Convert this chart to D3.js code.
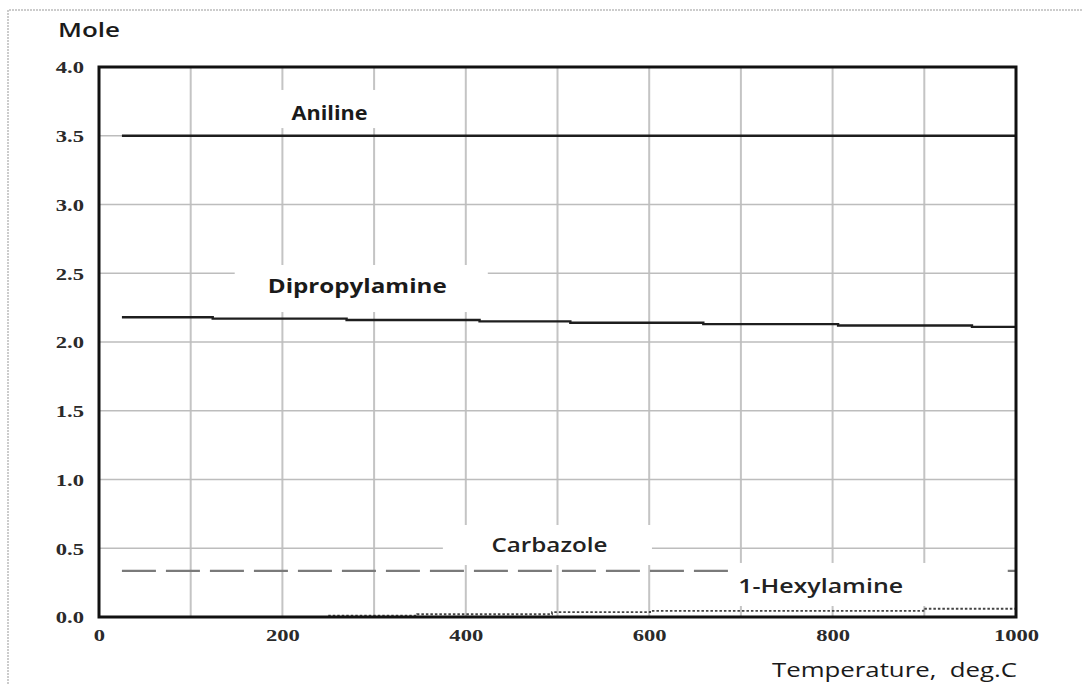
<!DOCTYPE html>
<html>
<head>
<meta charset="utf-8">
<script src="https://cdn.jsdelivr.net/npm/d3@7"></script>
<style>
  body { margin: 0; background: #fff; }
  svg { display: block; }
</style>
</head>
<body>
<div class="container"></div>
<script>
// values
const xTicks = [0, 200, 400, 600, 800, 1000];
const yTicks = [0, 0.5, 1, 1.5, 2, 2.5, 3, 3.5, 4];

const anilineT = [25, 1000];
const anilineMole = [3.5, 3.5];

const dipropT = [25, 124, 270, 415, 514, 659, 806, 952, 1000];
const dipropMole = [2.18, 2.17, 2.16, 2.15, 2.14, 2.13, 2.12, 2.11, 2.11];

const carbT = [25, 1000];
const carbMole = [0.335, 0.335];

const hexT = [250, 347, 494, 601, 899, 1000];
const hexMole = [0.01, 0.02, 0.035, 0.045, 0.06, 0.06];

const width = 1082;
const height = 684;
const margin = { top: 67, right: 66, bottom: 67, left: 99 };

const zip = (xs, ys) => xs.map((t, i) => ({ t, v: ys[i] }));

const genGraph = () => {
  const xScale = d3.scaleLinear().domain([0, 1000]).range([margin.left, width - margin.right]);
  const yScale = d3.scaleLinear().domain([0, 4]).range([height - margin.bottom, margin.top]);

  const svg = d3
    .select(".container")
    .append("svg")
    .attr("width", width)
    .attr("height", height);

  // dotted frame of the picture
  svg.append("path")
    .attr("d", `M8,${height} V10 H${width}`)
    .attr("fill", "none")
    .attr("stroke", "#999")
    .attr("stroke-width", 1)
    .attr("stroke-dasharray", "2,1");

  // grid
  const grid = svg.append("g").attr("id", "grid");
  grid.selectAll("line.v")
    .data(d3.range(100, 1000, 100))
    .enter()
    .append("line")
    .attr("class", "v")
    .attr("x1", d => xScale(d))
    .attr("x2", d => xScale(d))
    .attr("y1", yScale(4))
    .attr("y2", yScale(0))
    .attr("stroke", "#c4c4c4")
    .attr("stroke-width", 2);
  grid.selectAll("line.h")
    .data(yTicks.filter(d => d > 0 && d < 4))
    .enter()
    .append("line")
    .attr("class", "h")
    .attr("x1", xScale(0))
    .attr("x2", xScale(1000))
    .attr("y1", d => yScale(d))
    .attr("y2", d => yScale(d))
    .attr("stroke", "#bdbdbd")
    .attr("stroke-width", 1.5);

  const line = d3.line()
    .x(d => xScale(d.t))
    .y(d => yScale(d.v))
    .curve(d3.curveStepAfter);

  const series = [
    { data: zip(anilineT, anilineMole), color: "#1e1e1e", w: 2.4, dash: null },
    { data: zip(dipropT, dipropMole), color: "#1e1e1e", w: 2.4, dash: null },
    { data: zip(carbT, carbMole), color: "#7a7a7a", w: 2.2, dash: "34,10" },
    { data: zip(hexT, hexMole), color: "#444", w: 1.8, dash: "2.5,2" }
  ];

  svg.append("g")
    .attr("id", "lines")
    .selectAll("path")
    .data(series)
    .enter()
    .append("path")
    .attr("d", d => line(d.data))
    .attr("fill", "none")
    .attr("stroke", d => d.color)
    .attr("stroke-width", d => d.w)
    .attr("stroke-dasharray", d => d.dash);

  // white boxes behind the series labels, they hide the grid
  const labels = [
    { text: "Aniline", t: 210, v: 3.615, len: 76, size: 20, weight: 700, box: [143, 350, 3.556, 3.833] },
    { text: "Dipropylamine", t: 184, v: 2.356, len: 179, size: 20, weight: 700, box: [148, 424, 2.218, 2.56] },
    { text: "Carbazole", t: 428, v: 0.473, len: 116, size: 19, weight: 600, box: [375, 603, 0.378, 0.669] },
    { text: "1-Hexylamine", t: 697, v: 0.175, len: 165, size: 19, weight: 600, box: [688, 991, 0.08, 0.393] }
  ];

  svg.append("g")
    .attr("id", "label-boxes")
    .selectAll("rect")
    .data(labels)
    .enter()
    .append("rect")
    .attr("x", d => xScale(d.box[0]))
    .attr("width", d => xScale(d.box[1]) - xScale(d.box[0]))
    .attr("y", d => yScale(d.box[3]))
    .attr("height", d => yScale(d.box[2]) - yScale(d.box[3]))
    .attr("fill", "#fff");

  // plot frame
  svg.append("rect")
    .attr("x", xScale(0))
    .attr("y", yScale(4))
    .attr("width", xScale(1000) - xScale(0))
    .attr("height", yScale(0) - yScale(4))
    .attr("fill", "none")
    .attr("stroke", "#111")
    .attr("stroke-width", 3);

  svg.append("g")
    .attr("id", "labels")
    .selectAll("text")
    .data(labels)
    .enter()
    .append("text")
    .attr("x", d => xScale(d.t))
    .attr("y", d => yScale(d.v))
    .attr("textLength", d => d.len)
    .attr("lengthAdjust", "spacingAndGlyphs")
    .attr("font-family", "'Open Sans', sans-serif")
    .attr("font-size", d => d.size)
    .attr("font-weight", d => d.weight)
    .attr("fill", d => (d.weight === 700 ? "#1a1a1a" : "#222"))
    .text(d => d.text);

  // axes
  const sx = 1.33;
  const yAxis = svg.append("g")
    .attr("transform", `translate(${margin.left},0)`)
    .call(d3.axisLeft(yScale).tickValues(yTicks).tickSize(0).tickFormat(d3.format(".1f")));
  yAxis.select(".domain").remove();
  yAxis.selectAll("text")
    .attr("x", -15 / sx)
    .attr("dy", "0.34em")
    .attr("transform", `scale(${sx},1)`)
    .attr("font-family", "'Liberation Serif', serif")
    .attr("font-weight", "bold")
    .attr("font-size", 17)
    .attr("fill", "#2a2a2a");

  const xAxis = svg.append("g")
    .attr("transform", `translate(0,${height - margin.bottom})`)
    .call(d3.axisBottom(xScale).tickValues(xTicks).tickSize(0).tickFormat(d3.format("d")));
  xAxis.select(".domain").remove();
  xAxis.selectAll(".tick text")
    .attr("y", 12)
    .attr("dy", "0.71em")
    .attr("transform", `scale(${sx},1)`)
    .attr("font-family", "'Liberation Serif', serif")
    .attr("font-weight", "bold")
    .attr("font-size", 17)
    .attr("fill", "#2a2a2a");

  svg.append("text")
    .attr("x", 58)
    .attr("y", 37)
    .attr("textLength", 62)
    .attr("lengthAdjust", "spacingAndGlyphs")
    .attr("font-family", "'Open Sans', sans-serif")
    .attr("font-size", 20)
    .attr("font-weight", 600)
    .attr("fill", "#1a1a1a")
    .text("Mole");

  svg.append("text")
    .attr("x", 772)
    .attr("y", 677)
    .attr("textLength", 245)
    .attr("lengthAdjust", "spacingAndGlyphs")
    .attr("font-family", "'Open Sans', sans-serif")
    .attr("font-size", 20)
    .attr("fill", "#1a1a1a")
    .style("white-space", "pre")
    .text("Temperature,  deg.C");
};

genGraph();
</script>
</body>
</html>
